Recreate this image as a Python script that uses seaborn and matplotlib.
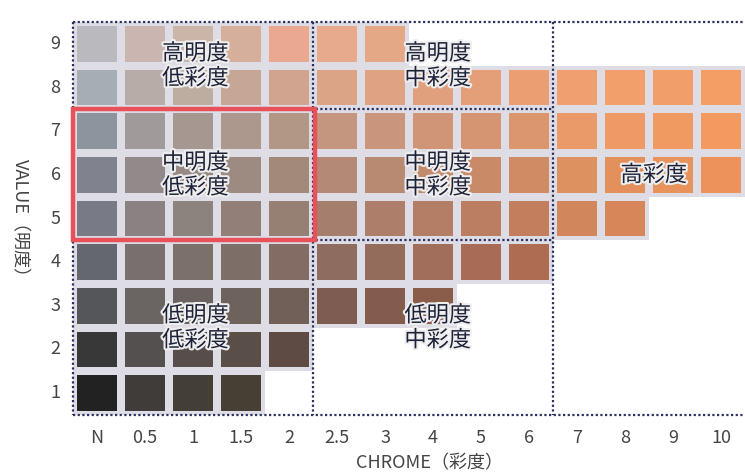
import numpy as np
import matplotlib
matplotlib.use("Agg")
import matplotlib.pyplot as plt
import matplotlib.patheffects as pe
from matplotlib.colors import ListedColormap
from matplotlib.patches import Rectangle
import seaborn as sns

# chroma (columns) and value (rows, top to bottom)
chroma_labels = ["N", "0.5", "1", "1.5", "2", "2.5", "3", "4", "5", "6", "7", "8", "9", "10"]
value_labels = ["9", "8", "7", "6", "5", "4", "3", "2", "1"]

# swatch colours per value row, left to right (missing chips are just left off)
row_v9 = ["#bababe", "#cab5b0", "#cbb5a8", "#d6ae9c", "#eaa890", "#e7aa8c", "#e4a886"]
row_v8 = ["#a7adb5", "#b8aca8", "#bdaca0", "#c6a694", "#d0a48e", "#dca486", "#dfa283",
          "#e0a07e", "#e59f78", "#eb9e72", "#f0a070", "#f39f6c", "#f29e68", "#f49e66"]
row_v7 = ["#8e949e", "#a09a9a", "#a69890", "#ac988c", "#b29686", "#c49680", "#c9957c",
          "#cf9576", "#d69572", "#dc966e", "#e99a68", "#ef9a64", "#f09a62", "#f39a60"]
row_v6 = ["#80828e", "#928a8a", "#978a84", "#9d8a80", "#a2897a", "#b48a76", "#b98a72",
          "#c48a6c", "#c98a68", "#d08a64", "#dd9060", "#e3905c", "#e8925c", "#ed925a"]
row_v5 = ["#787a86", "#8a8282", "#8c827e", "#927f78", "#968074", "#a67e6e", "#ad7e6a",
          "#b47d66", "#bb7e62", "#c37e5e", "#d1865c", "#d68658"]
row_v4 = ["#646670", "#78706e", "#7c706a", "#7e6e68", "#826c64", "#8e6c60", "#946c5c",
          "#a06e5a", "#a86c56", "#ae6c52"]
row_v3 = ["#55565a", "#6a6462", "#6a6260", "#6e625c", "#706058", "#7e5c52", "#845c4e", "#8a5c4a"]
row_v2 = ["#383839", "#555050", "#574e4c", "#5a4e48", "#5e4c44"]
row_v1 = ["#222222", "#403c3a", "#433e36", "#453f34"]

rows = [row_v9, row_v8, row_v7, row_v6, row_v5, row_v4, row_v3, row_v2, row_v1]

# region labels: (text, x, y) in cell units
region_text = ["高明度\n低彩度", "高明度\n中彩度", "中明度\n低彩度", "中明度\n中彩度",
               "高彩度", "低明度\n低彩度", "低明度\n中彩度"]
region_x = [2.55, 7.6, 2.55, 7.6, 12.1, 2.55, 7.6]
region_y = [1.0, 1.0, 3.5, 3.5, 3.5, 7.0, 7.0]

# build index matrix + palette
palette = []
grid = np.full((len(value_labels), len(chroma_labels)), np.nan)
for i, r in enumerate(rows):
    for j, c in enumerate(r):
        grid[i, j] = len(palette)
        palette.append(c)
empty = np.where(np.isnan(grid), 0.0, np.nan)

sns.set_style("white")
plt.rcParams["font.family"] = ["Noto Sans CJK JP", "DejaVu Sans"]

fig = plt.figure(figsize=(7.45, 4.74), dpi=100)
ax = fig.add_axes([0.098, 0.1245, 0.902, 0.829])
ax.set_facecolor("white")

sns.heatmap(grid, cmap=ListedColormap(palette), vmin=-0.5, vmax=len(palette) - 0.5,
            cbar=False, linewidths=5.5, linecolor="#dedde5",
            xticklabels=chroma_labels, yticklabels=value_labels, ax=ax)
# blank chips: plain white, no gap lines
sns.heatmap(empty, cmap=ListedColormap(["white"]), cbar=False, linewidths=0,
            xticklabels=chroma_labels, yticklabels=value_labels, ax=ax)

# dotted region dividers
dot = dict(color="#2b3060", lw=1.6, linestyle=(0, (1, 1.1)), clip_on=False, zorder=5)
ax.plot([0, 14], [0, 0], **dot)
ax.plot([0, 14], [9, 9], **dot)
ax.plot([0, 0], [0, 9], **dot)
ax.plot([5, 5], [0, 9], **dot)
ax.plot([10, 10], [0, 9], **dot)
ax.plot([0, 10], [2, 2], **dot)
ax.plot([0, 10], [5, 5], **dot)

ax.add_patch(Rectangle((0, 2), 5.05, 3, fill=False, ec="#e8505a", lw=3.2,
                       clip_on=False, zorder=6))

for t, x, y in zip(region_text, region_x, region_y):
    ax.text(x, y, t, ha="center", va="center", fontsize=16, color="#1e2238",
            linespacing=1.1, zorder=7,
            path_effects=[pe.withStroke(linewidth=3, foreground="#eeeeee")])

ax.tick_params(axis="both", length=0, labelsize=13, colors="#444444")
ax.tick_params(axis="x", pad=10)
ax.tick_params(axis="y", pad=9)
plt.setp(ax.get_yticklabels(), rotation=0)
plt.setp(ax.get_xticklabels(), rotation=0)

ax.set_xlabel("CHROME（彩度）", fontsize=13, color="#444444")
ax.xaxis.set_label_coords(0.53, -0.1)
ax.set_ylabel("VALUE（明度）", fontsize=13, color="#444444", rotation=270)
ax.yaxis.set_label_coords(-0.093, 0.49)

for s in ax.spines.values():
    s.set_visible(False)

fig.savefig("out.png", dpi=100)
